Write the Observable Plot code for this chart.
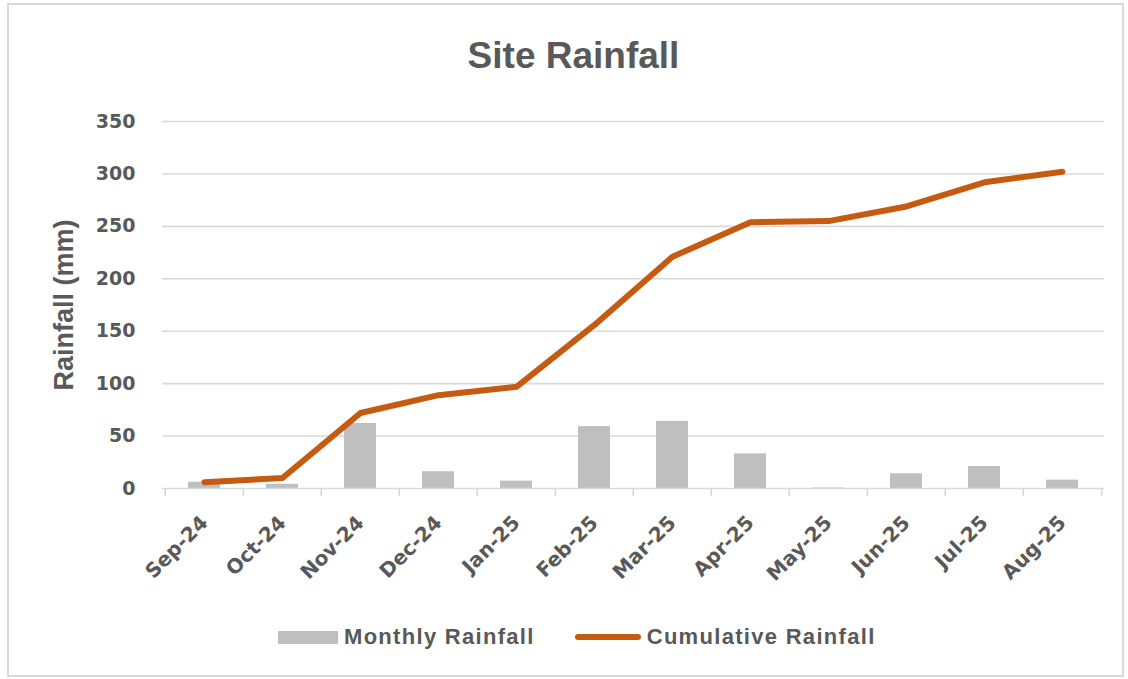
<!DOCTYPE html>
<html>
<head>
<meta charset="utf-8">
<script src="https://cdn.jsdelivr.net/npm/d3@7"></script>
<script src="https://cdn.jsdelivr.net/npm/@observablehq/plot@0.6"></script>
<style>
  html, body { margin: 0; padding: 0; background: #fff; }
  #wrap { position: relative; width: 1128px; height: 679px; overflow: hidden; font-family: "Liberation Sans", Arial, sans-serif; color: #595959; }
  #border { position: absolute; left: 7px; top: 3px; width: 1113px; height: 670px; border: 2px solid #d9d9d9; }
  #title { position: absolute; left: 0; top: 37px; width: 1147px; text-align: center; font-size: 37px; line-height: 37px; font-weight: bold; color: #595959; }
  #chart { position: absolute; left: 0; top: 95px; }
  #legend { position: absolute; top: 624px; left: 278px; display: flex; align-items: center; height: 26px; font-size: 22px; font-weight: bold; letter-spacing: 1.3px; color: #595959; white-space: nowrap; }
  .sw-bar { display: inline-block; width: 60px; height: 13px; background: #bfbfbf; margin-right: 6px; }
  .sw-line { display: inline-block; width: 66px; height: 6px; border-radius: 3px; background: #c55a11; margin-right: 6px; margin-left: 40px; }
</style>
</head>
<body>
<div id="wrap">
  <div id="border"></div>
  <div id="title">Site Rainfall</div>
  <div id="chart"></div>
  <div id="legend"><span class="sw-bar"></span><span>Monthly Rainfall</span><span class="sw-line"></span><span>Cumulative Rainfall</span></div>
</div>
<script>
const months = ["Sep-24","Oct-24","Nov-24","Dec-24","Jan-25","Feb-25","Mar-25","Apr-25","May-25","Jun-25","Jul-25","Aug-25"];
const monthly = [6, 4, 62, 16, 7, 59, 64, 33, 0.5, 14, 21, 8];
const cumulative = [6, 10, 72, 89, 97, 156, 221, 254, 255, 269, 292, 302];
const yTicks = [0, 50, 100, 150, 200, 250, 300, 350];

const rows = months.map((m, i) => ({month: m, monthly: monthly[i], cumulative: cumulative[i]}));

const W = 1128, H = 505, mL = 162, mR = 24, mT = 26, mB = 112;
const step = (W - mL - mR) / months.length;
const plotH = H - mT - mB;
const tickFont = "'DejaVu Sans', sans-serif";

const chart = Plot.plot({
  width: W,
  height: H,
  marginLeft: mL,
  marginRight: mR,
  marginTop: mT,
  marginBottom: mB,
  style: {fontFamily: "'Liberation Sans', Arial, sans-serif", color: "#595959", background: "transparent", overflow: "visible"},
  x: {domain: months, paddingInner: 0.59, paddingOuter: 0.295, label: null},
  y: {domain: [0, 350], label: null},
  marks: [
    Plot.gridY(yTicks.filter(t => t > 0), {stroke: "#d9d9d9", strokeOpacity: 1, strokeWidth: 1.6}),
    Plot.axisY(yTicks, {tickSize: 0, tickPadding: 27, fontSize: 19, fontWeight: "bold", fontFamily: tickFont, fill: "#595959", label: null}),
    Plot.text(["Rainfall (mm)"], {frameAnchor: "left", textAnchor: "middle", rotate: -90, dx: -98, fontSize: 27, fontWeight: "bold", fill: "#595959"}),
    Plot.barY(rows, {x: "month", y: "monthly", fill: "#bfbfbf"}),
    Plot.ruleY([0], {stroke: "#d9d9d9", strokeWidth: 1.6}),
    Plot.ruleX(months, {x: d => d, dx: -step / 2, insetTop: plotH, insetBottom: -8, stroke: "#d9d9d9", strokeWidth: 1.6}),
    Plot.ruleX([months[months.length - 1]], {x: d => d, dx: step / 2, insetTop: plotH, insetBottom: -8, stroke: "#d9d9d9", strokeWidth: 1.6}),
    Plot.line(rows, {x: "month", y: "cumulative", stroke: "#c55a11", strokeWidth: 6, strokeLinejoin: "round", strokeLinecap: "round"}),
    Plot.axisX({tickSize: 0, tickRotate: -45, tickPadding: 31, fontSize: 20, fontWeight: "bold", fontFamily: tickFont, fill: "#595959", label: null})
  ]
});
document.getElementById("chart").appendChild(chart);
</script>
</body>
</html>
